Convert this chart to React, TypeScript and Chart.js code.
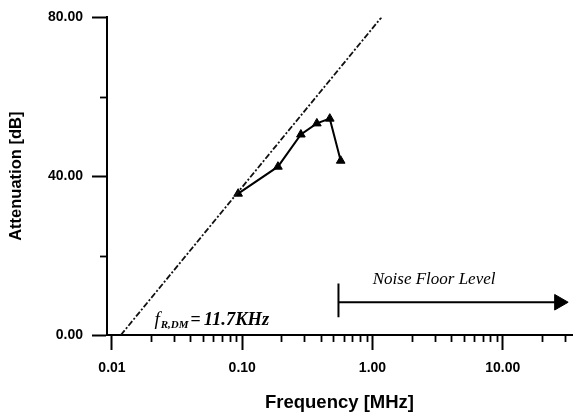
import React, { useEffect, useRef } from 'react';
import { Chart, registerables } from 'chart.js';

Chart.register(...registerables);

// Measured attenuation
const freqMHz = [0.093, 0.188, 0.282, 0.374, 0.47, 0.57];
const attenuationDb = [35.6, 42.4, 50.5, 53.3, 54.5, 43.9];

// 40 dB/decade asymptote starting at f_R,DM = 11.7 kHz
const asymptoteFreq = [0.0117, 1.17];
const asymptoteDb = [0, 80];

// Noise floor level arrow
const noiseFreq = [0.548, 27.1];
const noiseDb = [8.25, 8.25];
const noiseStartFreq = [0.548, 0.548];
const noiseStartDb = [4.5, 13];

// Axis ticks
const xMajorTicks = [0.01, 0.1, 1, 10];
const xMinorTicks = [
  0.02, 0.03, 0.04, 0.05, 0.06, 0.07, 0.08, 0.09,
  0.2, 0.3, 0.4, 0.5, 0.6, 0.7, 0.8, 0.9,
  2, 3, 4, 5, 6, 7, 8, 9,
  20, 30,
];
const yMajorTicks = [0, 40, 80];
const yMinorTicks = [20, 60];

// Annotation anchors (data coordinates)
const noiseLabelAt = [2.97, 12.75];
const fLabelAt = [0.0212, 2.5];

const SANS = '"Liberation Sans", Arial, sans-serif';
const SERIF = '"Liberation Serif", "Times New Roman", serif';

const overlayPlugin = {
  id: 'overlay',
  afterDraw(chart: any) {
    const { ctx, chartArea } = chart;
    const x = chart.scales.x;
    const y = chart.scales.y;
    ctx.save();
    ctx.strokeStyle = '#000';
    ctx.lineWidth = 1.8;
    xMinorTicks.forEach((v) => {
      const px = Math.round(x.getPixelForValue(v)) + 0.5;
      ctx.beginPath();
      ctx.moveTo(px, chartArea.bottom);
      ctx.lineTo(px, chartArea.bottom + 7);
      ctx.stroke();
    });
    yMinorTicks.forEach((v) => {
      const py = Math.round(y.getPixelForValue(v)) + 0.5;
      ctx.beginPath();
      ctx.moveTo(chartArea.left, py);
      ctx.lineTo(chartArea.left - 7, py);
      ctx.stroke();
    });

    ctx.fillStyle = '#000';
    ctx.textBaseline = 'alphabetic';
    ctx.textAlign = 'center';
    ctx.font = `italic 17px ${SERIF}`;
    ctx.fillText('Noise Floor Level', x.getPixelForValue(noiseLabelAt[0]), y.getPixelForValue(noiseLabelAt[1]));

    ctx.textAlign = 'left';
    let px = x.getPixelForValue(fLabelAt[0]);
    const py = y.getPixelForValue(fLabelAt[1]);
    ctx.font = `italic 19px ${SERIF}`;
    ctx.fillText('f', px, py);
    px += ctx.measureText('f').width + 1;
    ctx.font = `italic bold 11px ${SERIF}`;
    ctx.fillText('R,DM', px, py + 3);
    px += ctx.measureText('R,DM').width + 2;
    ctx.font = `bold 18px ${SERIF}`;
    ctx.fillText('=', px, py);
    px += ctx.measureText('=').width + 3;
    ctx.font = `italic bold 18.5px ${SERIF}`;
    ctx.fillText('11.7KHz', px, py);
    ctx.restore();
  },
};

export default function App() {
  const ref = useRef<HTMLCanvasElement | null>(null);

  useEffect(() => {
    if (!ref.current) return;
    const chart = new Chart(ref.current, {
      type: 'scatter',
      data: {
        datasets: [
          {
            data: asymptoteFreq.map((f, i) => ({ x: f, y: asymptoteDb[i] })),
            showLine: true,
            borderColor: '#111',
            borderWidth: 1.8,
            borderDash: [6, 2, 2, 2],
            pointRadius: 0,
          },
          {
            data: freqMHz.map((f, i) => ({ x: f, y: attenuationDb[i] })),
            showLine: true,
            borderColor: '#000',
            backgroundColor: '#000',
            borderWidth: 2,
            pointStyle: 'triangle',
            pointRadius: 5,
            pointBorderWidth: 1,
          },
          {
            data: noiseFreq.map((f, i) => ({ x: f, y: noiseDb[i] })),
            showLine: true,
            borderColor: '#000',
            backgroundColor: '#000',
            borderWidth: 2,
            pointStyle: 'triangle',
            pointRotation: 90,
            pointRadius: (c: any) => (c.dataIndex === noiseFreq.length - 1 ? 9 : 0),
            pointBorderWidth: 1,
          },
          {
            data: noiseStartFreq.map((f, i) => ({ x: f, y: noiseStartDb[i] })),
            showLine: true,
            borderColor: '#000',
            borderWidth: 2,
            pointRadius: 0,
          },
        ],
      },
      options: {
        responsive: false,
        animation: false,
        devicePixelRatio: 1,
        layout: { padding: { left: 0, right: 5, top: 15, bottom: 0 } },
        plugins: {
          legend: { display: false },
          tooltip: { enabled: false },
        },
        scales: {
          x: {
            type: 'logarithmic',
            min: 0.00916,
            max: 34,
            afterBuildTicks: (s: any) => {
              s.ticks = xMajorTicks.map((v) => ({ value: v }));
            },
            afterFit: (s: any) => {
              s.height = 81;
            },
            ticks: {
              callback: (v: any) => Number(v).toFixed(2),
              font: { family: SANS, weight: 'bold', size: 14 },
              color: '#000',
              padding: 10,
              maxRotation: 0,
              autoSkip: false,
            },
            grid: {
              display: true,
              drawOnChartArea: false,
              drawTicks: true,
              tickLength: 15,
              tickWidth: 2,
              tickColor: '#000',
            },
            border: { display: true, color: '#000', width: 2 },
            title: {
              display: true,
              text: 'Frequency [MHz]',
              color: '#000',
              font: { family: SANS, weight: 'bold', size: 18.5 },
              padding: { top: 0, bottom: 2 },
            },
          },
          y: {
            type: 'linear',
            min: 0,
            max: 80,
            afterBuildTicks: (s: any) => {
              s.ticks = yMajorTicks.map((v) => ({ value: v }));
            },
            afterFit: (s: any) => {
              s.width = 107;
            },
            ticks: {
              callback: (v: any) => Number(v).toFixed(2),
              font: { family: SANS, weight: 'bold', size: 14 },
              color: '#000',
              padding: 9,
            },
            grid: {
              display: true,
              drawOnChartArea: false,
              drawTicks: true,
              tickLength: 15,
              tickWidth: 2,
              tickColor: '#000',
            },
            border: { display: true, color: '#000', width: 2 },
            title: {
              display: true,
              text: 'Attenuation [dB]',
              color: '#000',
              font: { family: SANS, weight: 'bold', size: 16.5 },
              padding: { top: 7, bottom: 0 },
            },
          },
        },
      },
      plugins: [overlayPlugin],
    } as any);
    return () => chart.destroy();
  }, []);

  return (
    <div style={{ position: 'fixed', left: 0, top: 0, width: 582, height: 416, background: '#fff' }}>
      <canvas ref={ref} width={582} height={416} style={{ display: 'block' }} />
    </div>
  );
}
